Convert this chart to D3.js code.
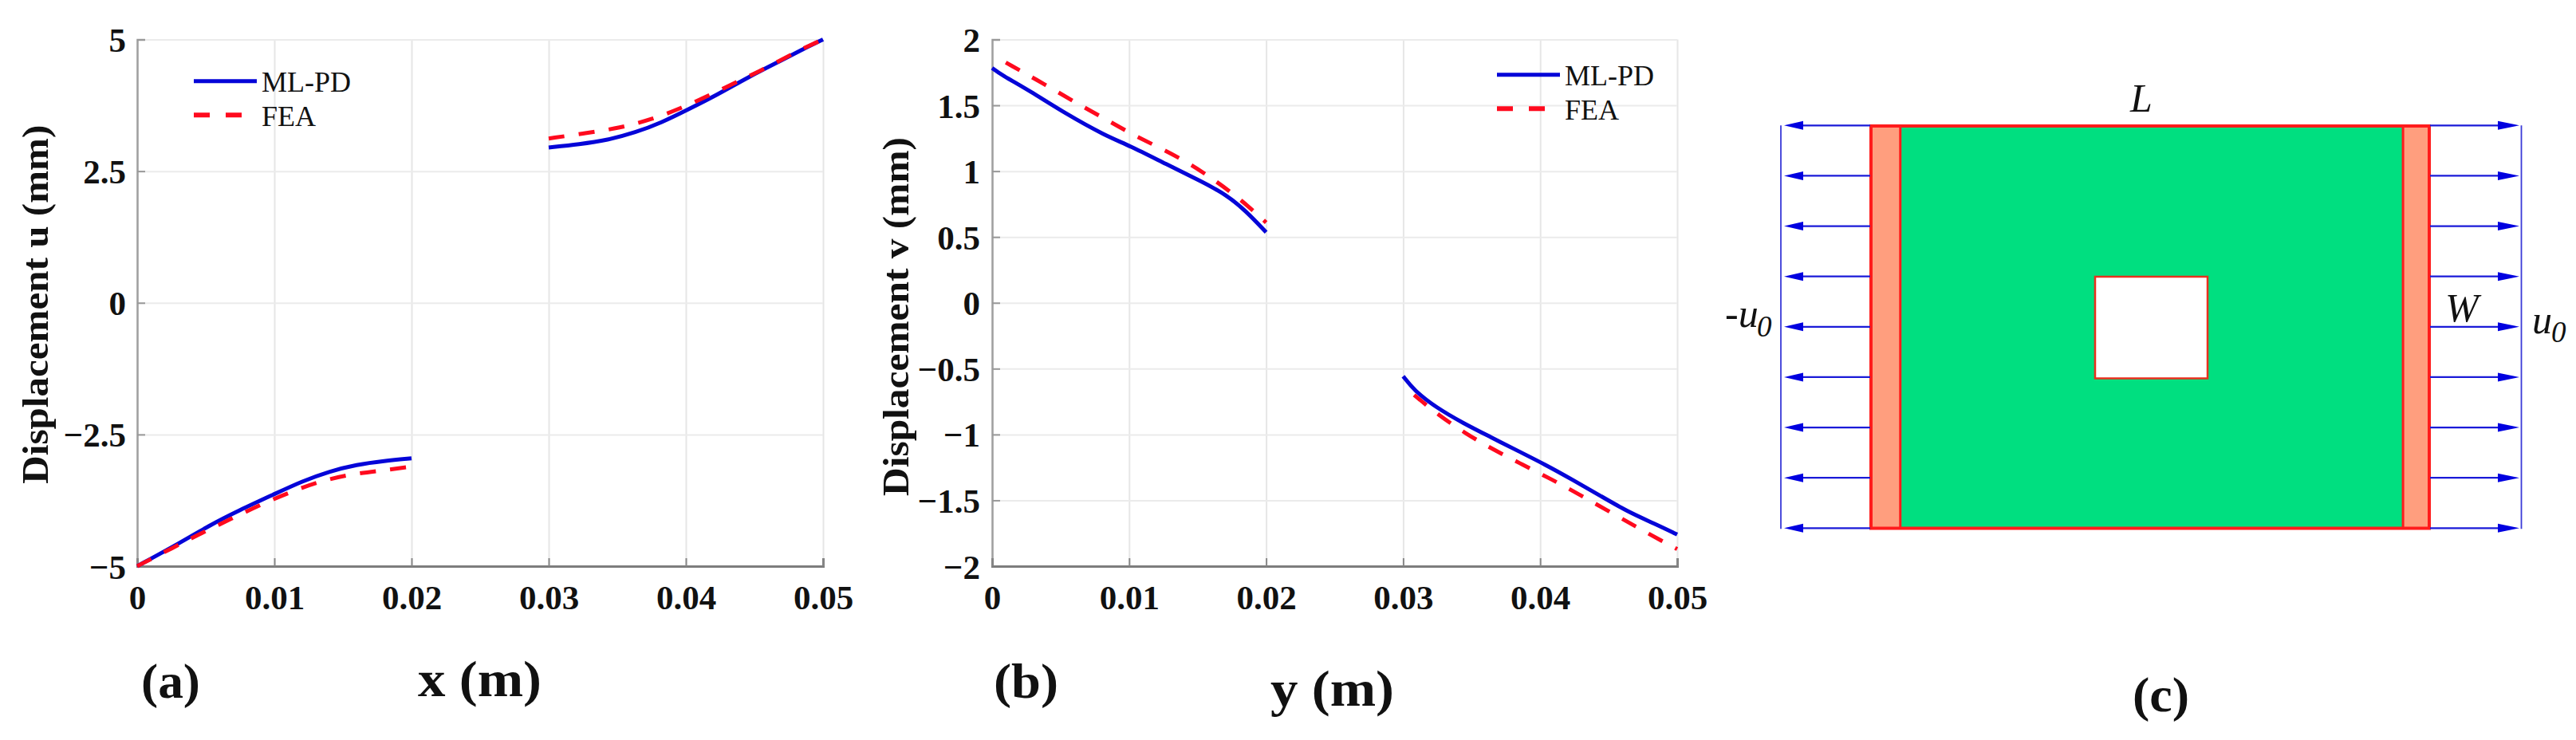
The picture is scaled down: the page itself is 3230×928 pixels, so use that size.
<!DOCTYPE html>
<html>
<head>
<meta charset="utf-8">
<script src="https://cdn.jsdelivr.net/npm/d3@7"></script>
<style>
html,body{margin:0;padding:0;background:#fff;}
svg{display:block;}
text{font-family:"Liberation Serif",serif;fill:#111;}
</style>
</head>
<body>
<svg id="chart" width="3230" height="928" viewBox="0 0 3230 928"></svg>
<script>
// ---------- data ----------
const xTicks = [0, 0.01, 0.02, 0.03, 0.04, 0.05];
const xTickLabels = ["0", "0.01", "0.02", "0.03", "0.04", "0.05"];
const uTicks = [-5, -2.5, 0, 2.5, 5];
const uTickLabels = ["\u22125", "\u22122.5", "0", "2.5", "5"];
const vTicks = [-2, -1.5, -1, -0.5, 0, 0.5, 1, 1.5, 2];
const vTickLabels = ["\u22122", "\u22121.5", "\u22121", "\u22120.5", "0", "0.5", "1", "1.5", "2"];

const seriesNames = ["ML-PD", "FEA"];

const uMlLeftX  = [0, 0.0032, 0.0052, 0.0074, 0.01, 0.012, 0.014, 0.016, 0.018, 0.02];
const uMlLeftY  = [-5, -4.547, -4.235, -3.944, -3.632, -3.39, -3.2, -3.07, -3.0, -2.953];
const uMlRightX = [0.03, 0.03225, 0.0343, 0.0363, 0.0383, 0.04, 0.0423, 0.0445, 0.0471, 0.0485, 0.05];
const uMlRightY = [2.95, 3.01, 3.09, 3.23, 3.43, 3.65, 3.95, 4.28, 4.62, 4.81, 5];
const uFeLeftX  = [0, 0.0026, 0.0047, 0.0069, 0.009, 0.0112, 0.0133, 0.0156, 0.018, 0.02];
const uFeLeftY  = [-5, -4.65, -4.37, -4.095, -3.83, -3.59, -3.39, -3.25, -3.18, -3.11];
const uFeRightX = [0.03, 0.0327, 0.0352, 0.0375, 0.0397, 0.0418, 0.044, 0.0461, 0.0482, 0.05];
const uFeRightY = [3.12, 3.22, 3.32, 3.48, 3.70, 3.95, 4.23, 4.49, 4.79, 5];

const vMlLeftX  = [0, 0.0007, 0.0027, 0.0053, 0.0083, 0.01, 0.0127, 0.0153, 0.0171, 0.0185, 0.02];
const vMlLeftY  = [1.784, 1.73, 1.613, 1.44, 1.267, 1.196, 1.053, 0.921, 0.82, 0.70, 0.536];
const vMlRightX = [0.03, 0.0308, 0.0324, 0.0344, 0.0364, 0.0384, 0.0404, 0.0424, 0.0444, 0.0464, 0.0484, 0.05];
const vMlRightY = [-0.558, -0.665, -0.795, -0.915, -1.02, -1.126, -1.23, -1.346, -1.466, -1.587, -1.68, -1.76];
const vFeLeftX  = [0.001, 0.004, 0.0061, 0.0082, 0.0102, 0.0123, 0.0144, 0.0164, 0.0182, 0.02];
const vFeLeftY  = [1.825, 1.65, 1.52, 1.40, 1.28, 1.175, 1.06, 0.92, 0.78, 0.61];
const vFeRightX = [0.0308, 0.0326, 0.0346, 0.0366, 0.0387, 0.0408, 0.0428, 0.0449, 0.047, 0.0489, 0.05];
const vFeRightY = [-0.70, -0.855, -0.995, -1.116, -1.228, -1.339, -1.452, -1.577, -1.70, -1.81, -1.87];

const arrowRows = [0, 1, 2, 3, 4, 5, 6, 7, 8];

// ---------- shared styling ----------
const BLUE = "#0505d8", RED = "#ff0a1e";
const svg = d3.select("#chart");

const zip = (xs, ys) => xs.map((x, i) => [x, ys[i]]);

function panel(o) {
  const x = d3.scaleLinear().domain([0, 0.05]).range([o.left, o.right]);
  const y = d3.scaleLinear().domain(o.yDomain).range([710, 49.5]);
  const g = svg.append("g");

  // grid
  g.append("g").attr("transform", `translate(0,710)`)
    .call(d3.axisBottom(x).tickValues(xTicks).tickSize(-660.5).tickFormat(""))
    .call(s => s.select(".domain").remove())
    .call(s => s.selectAll("line").attr("stroke", "#e6e6e6").attr("stroke-width", 2));
  g.append("g").attr("transform", `translate(${o.left},0)`)
    .call(d3.axisLeft(y).tickValues(o.yTicks).tickSize(-(o.right - o.left)).tickFormat(""))
    .call(s => s.select(".domain").remove())
    .call(s => s.selectAll("line").attr("stroke", "#ebebeb").attr("stroke-width", 2));

  // axes
  const labelStyle = s => s.selectAll("text")
    .attr("font-family", '"Liberation Serif",serif')
    .attr("font-size", 43).attr("font-weight", 700).attr("fill", "#111");

  g.append("g").attr("transform", `translate(${o.left},0)`)
    .call(d3.axisLeft(y).tickValues(o.yTicks).tickSize(-10).tickPadding(o.yPad)
      .tickFormat((d, i) => o.yLabels[i]))
    .call(labelStyle)
    .call(s => s.selectAll("text").attr("dy", "0.35em"))
    .call(s => s.select(".domain").attr("stroke", "#a0a0a0").attr("stroke-width", 2.5))
    .call(s => s.selectAll("line").attr("stroke", "#999").attr("stroke-width", 2));

  g.append("g").attr("transform", `translate(0,710)`)
    .call(d3.axisBottom(x).tickValues(xTicks).tickSize(-10).tickPadding(23)
      .tickFormat((d, i) => xTickLabels[i]))
    .call(labelStyle)
    .call(s => s.select(".domain").attr("stroke", "#7d7d7d").attr("stroke-width", 3))
    .call(s => s.selectAll("line").attr("stroke", "#888").attr("stroke-width", 2));

  // lines
  const line = d3.line().x(d => x(d[0])).y(d => y(d[1])).curve(d3.curveBasis);
  o.ml.forEach(d => g.append("path").attr("d", line(d)).attr("fill", "none")
    .attr("stroke", BLUE).attr("stroke-width", 5));
  o.fe.forEach(d => g.append("path").attr("d", line(d)).attr("fill", "none")
    .attr("stroke", RED).attr("stroke-width", 5).attr("stroke-dasharray", "20 18"));

  // legend
  const lg = g.append("g");
  lg.append("line").attr("x1", o.lgx).attr("x2", o.lgx + 79)
    .attr("y1", o.lgy).attr("y2", o.lgy).attr("stroke", BLUE).attr("stroke-width", 5);
  lg.append("line").attr("x1", o.lgx).attr("x2", o.lgx + 60)
    .attr("y1", o.lgy + 42.5).attr("y2", o.lgy + 42.5).attr("stroke", RED)
    .attr("stroke-width", 6).attr("stroke-dasharray", "20 20");
  seriesNames.forEach((n, i) => lg.append("text")
    .attr("x", o.lgx + 85).attr("y", o.lgy + 13.5 + i * 42.5)
    .attr("font-size", 36).text(n));

  // titles
  g.append("text").attr("transform", `translate(${o.ylx},${o.yly}) rotate(-90)`)
    .attr("text-anchor", "middle").attr("font-size", 47).attr("font-weight", 700)
    .attr("textLength", 450).attr("lengthAdjust", "spacingAndGlyphs").text(o.yTitle);
  g.append("text").attr("x", o.xlx).attr("y", o.xly)
    .attr("font-size", 64).attr("font-weight", 700)
    .attr("textLength", 155).attr("lengthAdjust", "spacingAndGlyphs").text(o.xTitle);
  g.append("text").attr("x", o.tagx).attr("y", 875)
    .attr("font-size", 62).attr("font-weight", 700)
    .attr("textLength", o.tagw).attr("lengthAdjust", "spacingAndGlyphs").text(o.tag);
}

panel({
  left: 172, right: 1032, yDomain: [-5, 5], yTicks: uTicks, yLabels: uTickLabels, yPad: 14,
  ml: [zip(uMlLeftX, uMlLeftY), zip(uMlRightX, uMlRightY)],
  fe: [zip(uFeLeftX, uFeLeftY), zip(uFeRightX, uFeRightY)],
  lgx: 243, lgy: 101.7,
  yTitle: "Displacement u (mm)", ylx: 60, yly: 381.7,
  xTitle: "x (m)", xlx: 524, xly: 873,
  tag: "(a)", tagx: 177, tagw: 74
});
panel({
  left: 1244, right: 2103, yDomain: [-2, 2], yTicks: vTicks, yLabels: vTickLabels, yPad: 15,
  ml: [zip(vMlLeftX, vMlLeftY), zip(vMlRightX, vMlRightY)],
  fe: [zip(vFeLeftX, vFeLeftY), zip(vFeRightX, vFeRightY)],
  lgx: 1877, lgy: 93.7,
  yTitle: "Displacement v (mm)", ylx: 1139, yly: 397,
  xTitle: "y (m)", xlx: 1593, xly: 885,
  tag: "(b)", tagx: 1246, tagw: 81
});

// ---------- schematic (c) ----------
const c = svg.append("g");
const px = d3.scaleLinear().domain([0, 1]).range([2346, 3046]);
const py = d3.scaleLinear().domain([0, 1]).range([158, 662.5]);
const rowY = d3.scaleLinear().domain([0, 8]).range([157.3, 662.3]);

// plate, grips, hole
c.append("rect").attr("x", px(0)).attr("y", py(0)).attr("width", px(1) - px(0)).attr("height", py(1) - py(0))
  .attr("fill", "#00df80");
[[0, 0.0525], [0.953, 1]].forEach(([a, b]) =>
  c.append("rect").attr("x", px(a)).attr("y", py(0)).attr("width", px(b) - px(a)).attr("height", py(1) - py(0))
    .attr("fill", "#ff9e7e").attr("stroke", "#ff1c1c").attr("stroke-width", 3));
c.append("rect").attr("x", px(0)).attr("y", py(0)).attr("width", px(1) - px(0)).attr("height", py(1) - py(0))
  .attr("fill", "none").attr("stroke", "#ff1c1c").attr("stroke-width", 4);
c.append("rect").attr("x", 2627).attr("y", 347).attr("width", 141).attr("height", 127.5)
  .attr("fill", "#fff").attr("stroke", "#e8301e").attr("stroke-width", 2.5);

// bracket lines
[2233, 3161.5].forEach(x => c.append("line").attr("x1", x).attr("x2", x)
  .attr("y1", rowY(0)).attr("y2", rowY(8) + 1).attr("stroke", "#3a3ad8").attr("stroke-width", 1.8));

// arrows
c.selectAll("g.a").data(arrowRows).join("g").attr("class", "a").each(function (r) {
  const s = d3.select(this), y = rowY(r);
  s.append("line").attr("x1", 2261).attr("x2", 2345).attr("y1", y).attr("y2", y)
    .attr("stroke", "#1a1ad8").attr("stroke-width", 2.2);
  s.append("path").attr("d", `M2237,${y}L2261,${y - 5.5}L2261,${y + 5.5}Z`).attr("fill", "#0000e0");
  s.append("line").attr("x1", 3047).attr("x2", 3132).attr("y1", y).attr("y2", y)
    .attr("stroke", "#1a1ad8").attr("stroke-width", 2.2);
  s.append("path").attr("d", `M3159,${y}L3132,${y - 5.5}L3132,${y + 5.5}Z`).attr("fill", "#0000e0");
});

// labels
const it = (x, y, t, size) => c.append("text").attr("x", x).attr("y", y)
  .attr("font-style", "italic").attr("font-size", size || 50).text(t);
it(2671, 140, "L");
it(3066, 403, "W");
it(2163, 410, "-u");
it(2203, 421.5, "0", 37);
it(3175, 418, "u");
it(3199, 429, "0", 37);
c.append("text").attr("x", 2674).attr("y", 892).attr("font-size", 62).attr("font-weight", 700)
  .attr("textLength", 71).attr("lengthAdjust", "spacingAndGlyphs").text("(c)");
</script>
</body>
</html>
